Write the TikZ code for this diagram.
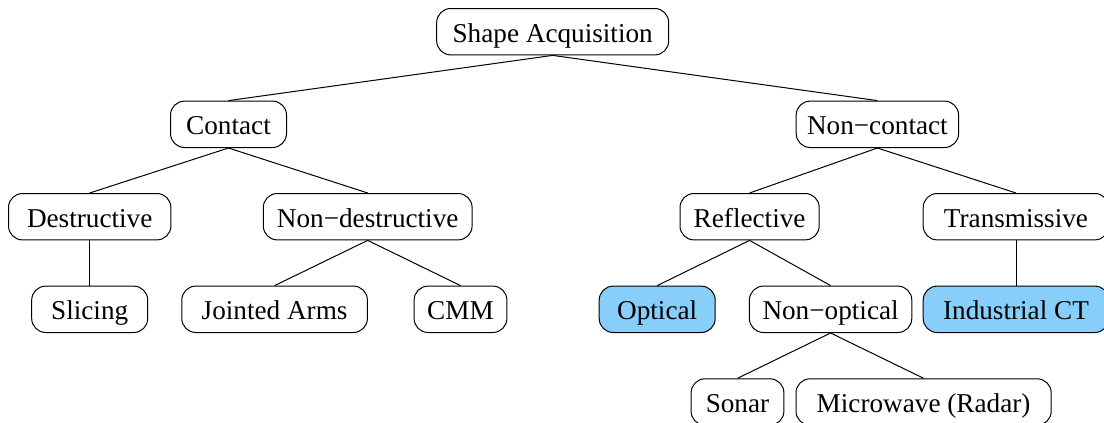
\documentclass[tikz,border=0pt]{standalone}
\usepackage{fontspec}
\setmainfont{Liberation Serif}
\definecolor{leafblue}{HTML}{87CEFA}
\begin{document}
\begin{tikzpicture}[x=1pt,y=-1pt,
  box/.style={draw, line width=1pt, rounded corners=14pt, minimum height=46.4pt,
    text height=27pt, text depth=6pt,
    inner xsep=4pt, inner ysep=0pt, fill=white,
    font=\fontsize{27.2}{32}\selectfont},
  wu/.style={minimum width=#1*23.2pt},
  hot/.style={box, fill=leafblue},
  link/.style={line width=1pt}]
\useasboundingbox (0,0) rectangle (1104,423);
% levels of the taxonomy
\node[box, wu=10] (root) at (552.7,31.7) {Shape Acquisition};
\node[box, wu=5] (contact) at (228.5,124.3) {Contact};
\node[box, wu=7] (noncontact) at (877.4,124.3) {Non−contact};
\node[box, wu=7] (destr) at (89.7,216.7) {Destructive};
\node[box, wu=9] (nondestr) at (367.7,216.7) {Non−destructive};
\node[box, wu=6] (refl) at (749.6,216.7) {Reflective};
\node[box, wu=8] (trans) at (1016,216.7) {Transmissive};
\node[box, wu=5] (slicing) at (89.7,309.3) {Slicing};
\node[box, wu=8] (arms) at (274.6,309.3) {Jointed Arms};
\node[box, wu=4] (cmm) at (460.5,309.3) {CMM};
\node[hot, wu=5] (optical) at (657.2,309.3) {Optical};
\node[box, wu=7] (nonopt) at (830.6,309.3) {Non−optical};
\node[hot, wu=8] (ct) at (1016,309.3) {Industrial CT};
\node[box, wu=4] (sonar) at (737.5,402) {Sonar};
\node[box, wu=11] (micro) at (923.6,402) {Microwave (Radar)};
% connectors
\foreach \p/\c in {root/contact, root/noncontact, contact/destr, contact/nondestr,
  noncontact/refl, noncontact/trans, destr/slicing, nondestr/arms, nondestr/cmm,
  refl/optical, refl/nonopt, trans/ct, nonopt/sonar, nonopt/micro}
  \draw[link] (\p.south) -- (\c.north);
\end{tikzpicture}
\end{document}
